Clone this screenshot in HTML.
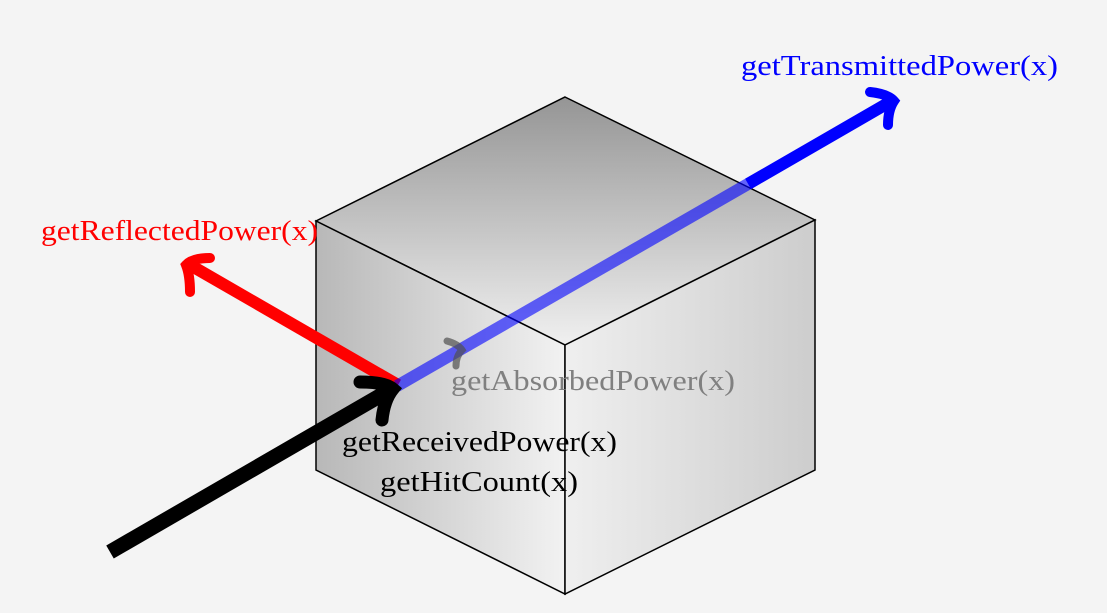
<!DOCTYPE html>
<html><head><style>
html,body{margin:0;padding:0;background:#f4f4f4;}
svg{display:block}
text{font-family:"Liberation Serif",serif;font-size:28px;}
</style></head><body>
<svg width="1107" height="613" viewBox="0 0 1107 613">
<defs>
<linearGradient id="top" x1="0" y1="0" x2="0" y2="1" gradientUnits="objectBoundingBox">
<stop offset="0" stop-color="#959595"/><stop offset="1" stop-color="#f0f0f0"/></linearGradient>
<linearGradient id="left" x1="0" y1="0" x2="1" y2="0">
<stop offset="0" stop-color="#b8b8b8"/><stop offset="1" stop-color="#f2f2f2"/></linearGradient>
<linearGradient id="right" x1="0" y1="0" x2="1" y2="0">
<stop offset="0" stop-color="#efefef"/><stop offset="1" stop-color="#cdcdcd"/></linearGradient>
</defs>
<polygon points="565,97 815,220 565,345 316,221" fill="url(#top)" stroke="#000" stroke-width="1.5"/>
<polygon points="316,221 565,345 565,594 316,470" fill="url(#left)" stroke="#000" stroke-width="1.5"/>
<polygon points="565,345 815,220 815,470 565,594" fill="url(#right)" stroke="#000" stroke-width="1.5"/>
<line x1="398" y1="385" x2="190" y2="265" stroke="#f00" stroke-width="12"/>
<path d="M210,258 Q192,258 186,265 Q190,275 190,292" fill="none" stroke="#f00" stroke-width="10" stroke-linecap="round"/>
<line x1="397" y1="386" x2="748" y2="184" stroke="rgba(0,0,255,0.6)" stroke-width="12"/>
<line x1="748" y1="184" x2="890" y2="102" stroke="#00f" stroke-width="12"/>
<path d="M870,92 Q888,94 894,101 Q888,110 888,125" fill="none" stroke="#00f" stroke-width="10" stroke-linecap="round"/>
<path d="M447,341 Q458,344 462,350 Q456,356 456,366" fill="none" stroke="rgba(80,80,80,0.7)" stroke-width="7" stroke-linecap="round"/>
<line x1="110" y1="552" x2="390" y2="390" stroke="#000" stroke-width="15"/>
<path d="M360,382 Q385,382 393,389 Q384,400 382,420" fill="none" stroke="#000" stroke-width="13" stroke-linecap="round"/>
<text x="41" y="240" fill="#f00" textLength="277" lengthAdjust="spacingAndGlyphs">getReflectedPower(x)</text>
<text x="741" y="75" fill="#00f" textLength="317" lengthAdjust="spacingAndGlyphs">getTransmittedPower(x)</text>
<text x="451" y="390" fill="#808080" textLength="284" lengthAdjust="spacingAndGlyphs">getAbsorbedPower(x)</text>
<text x="342" y="451" fill="#000" textLength="275" lengthAdjust="spacingAndGlyphs">getReceivedPower(x)</text>
<text x="380" y="491" fill="#000" textLength="198" lengthAdjust="spacingAndGlyphs">getHitCount(x)</text>
</svg>
</body></html>
